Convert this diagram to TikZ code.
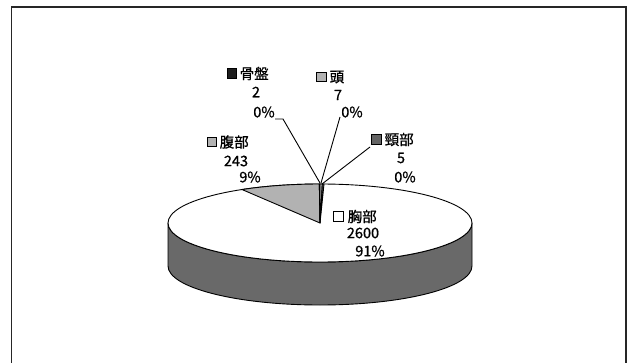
\documentclass[tikz,border=0pt]{standalone}
\usepackage{fontspec}
\newfontfamily\jp[FakeBold=0.8]{Noto Sans CJK JP}
\definecolor{sidegray}{RGB}{105,105,105}
\definecolor{lightg}{RGB}{178,178,178}
\definecolor{darkg}{RGB}{100,100,100}
\definecolor{blackg}{RGB}{30,30,30}
\begin{document}
\begin{tikzpicture}[x=1pt,y=1pt,
  lbl/.style={inner sep=0pt,font=\jp\fontsize{14.5}{15}\selectfont},
  key/.style={draw=black,line width=0.8pt,minimum size=9.5pt,inner sep=0pt},
  leader/.style={draw=black,line width=0.9pt},
  pieedge/.style={draw=black,line width=0.9pt}]
\useasboundingbox (0,0) rectangle (632,362);
\fill[white] (0,0) rectangle (632,362);
% frame
\draw[line width=1.8pt,black!85] (11.5,-5) -- (11.5,354.8) -- (626,354.8) -- (626,-5);
% side of the pie
\path[fill=sidegray,pieedge] (168,139) -- (168,96)
  arc[start angle=180,end angle=360,x radius=152,y radius=39]
  -- (472,139) arc[start angle=0,end angle=-180,x radius=152,y radius=39] -- cycle;
% top ellipse
\path[fill=white,pieedge] (320,139) ellipse[x radius=152,y radius=39];
% slices
\coordinate (c) at (320,139);
\path[fill=lightg,pieedge] (c) -- +(120.87:152 and 39) arc[start angle=120.87,end angle=90.25,x radius=152,y radius=39] -- cycle;
\path[fill=blackg,pieedge] (c) -- +(90.25:152 and 39) arc[start angle=90.25,end angle=90,x radius=152,y radius=39] -- cycle;
\path[fill=lightg,pieedge] (c) -- +(90:152 and 39) arc[start angle=90,end angle=89.12,x radius=152,y radius=39] -- cycle;
\path[fill=darkg,pieedge] (c) -- +(89.12:152 and 39) arc[start angle=89.12,end angle=88.49,x radius=152,y radius=39] -- cycle;
% leader anchor points
\coordinate (pelvisEnd) at (320,179);
\coordinate (headEnd) at (321,179);
\coordinate (neckEnd) at (322,178);
% labels: pelvis
\node[key,fill=blackg] (kPelvis) at (232,288.5) {};
\node[lbl,anchor=west] (tPelvis) at (239.5,288.5) {骨盤};
\node[lbl] (nPelvis) at (256,270) {2};
\node[lbl] (pPelvis) at (264,250) {0\%};
\coordinate (pelvisStart) at (275,243);
\draw[leader] (pelvisStart) -- ++(8,0) -- (pelvisEnd);
% head
\node[key,fill=lightg] (kHead) at (321.5,285) {};
\node[lbl,anchor=west] (tHead) at (329.5,285) {頭};
\node[lbl] (nHead) at (338,267) {7};
\node[lbl] (pHead) at (352,250) {0\%};
\coordinate (headStart) at (340,245);
\draw[leader] (headStart) -- (headEnd);
% neck
\node[key,fill=darkg] (kNeck) at (376.5,222.5) {};
\node[lbl,anchor=west] (tNeck) at (384.5,222.5) {頸部};
\node[lbl] (nNeck) at (401,204) {5};
\node[lbl] (pNeck) at (405,185) {0\%};
\coordinate (neckStart) at (370,215);
\draw[leader] (neckStart) -- (neckEnd);
% abdomen
\node[key,fill=lightg] (kAbd) at (212,220) {};
\node[lbl,anchor=west] (tAbd) at (219.5,220) {腹部};
\node[lbl] (nAbd) at (236,201) {243};
\node[lbl] (pAbd) at (250,185) {9\%};
% chest
\node[key,fill=white] (kChest) at (338.5,145.5) {};
\node[lbl,anchor=west] (tChest) at (347.5,145.5) {胸部};
\node[lbl] (nChest) at (363,129) {2600};
\node[lbl] (pChest) at (370,111) {91\%};
\end{tikzpicture}
\end{document}
